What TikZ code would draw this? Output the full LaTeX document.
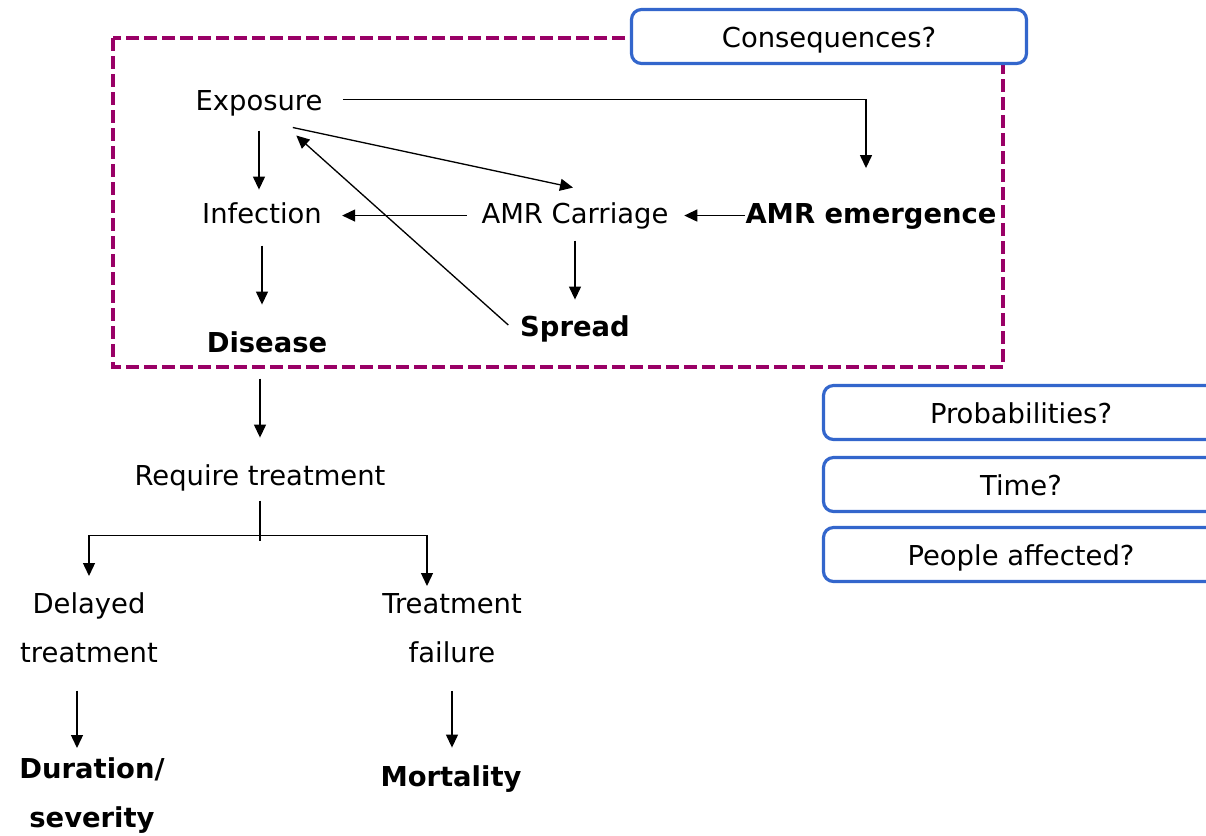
\documentclass[tikz,border=0pt]{standalone}
\usepackage{fontspec}
\setmainfont{DejaVu Sans}
\usepackage{xcolor}
\usetikzlibrary{arrows.meta, positioning}
\definecolor{boxpurple}{HTML}{990066}
\definecolor{boxblue}{HTML}{3366CC}

\begin{document}
\begin{tikzpicture}[
        lbl/.style={inner sep=0pt, anchor=base, text height=12pt, text depth=3.5pt},
        lbltwo/.style={inner sep=0pt, anchor=north, align=center},
        qbox/.style={draw=boxblue, line width=1.8pt, rounded corners=0.2cm, fill=white,
            minimum width=7.9cm, minimum height=1.08cm, inner sep=0pt,
            text height=12pt, text depth=0pt},
        arr/.style={-{Triangle[length=0.26cm, width=0.24cm]}, line width=0.75pt},
        ln/.style={line width=0.75pt}
    ]
        \fontsize{15.6}{18.7}\selectfont
        \clip (0,0) rectangle (24.12,-16.7);

        % Dashed frame
        \draw[boxpurple, line width=2.4pt, dash pattern=on 0.26cm off 0.1cm]
            (2.26,-0.76) rectangle (20.06,-7.34);

        % Question boxes
        \node[qbox] (conseq) at (16.58,-0.73) {Consequences?};
        \node[qbox] (prob) at (20.42,-8.25) {Probabilities?};
        \node[qbox] (time) at (20.42,-9.69) {Time?};
        \node[qbox] (people) at (20.42,-11.09) {People affected?};

        % Pathway labels
        \node[lbl] (expo) at (5.18,-2.2) {Exposure};
        \node[lbl] (inf) at (5.24,-4.46) {Infection};
        \node[lbl] (carr) at (11.5,-4.46) {AMR Carriage};
        \node[lbl, font=\bfseries] (emer) at (17.42,-4.46) {AMR emergence};
        \node[lbl, font=\bfseries] (spread) at (11.5,-6.73) {Spread};
        \node[lbl, font=\bfseries] (dis) at (5.34,-7.04) {Disease};
        \node[lbl] (req) at (5.2,-9.7) {Require treatment};
        \node[lbltwo, font=\fontsize{15.6}{28}\selectfont] (delay) at (1.78,-11.84) {Delayed\\treatment};
        \node[lbltwo, font=\fontsize{15.6}{28}\selectfont] (fail) at (9.04,-11.86) {Treatment\\failure};
        \node[lbltwo, font=\fontsize{15.6}{28}\selectfont\bfseries] (dur) at (1.84,-15.14) {Duration/\\severity};
        \node[lbl, font=\bfseries] (mort) at (9.02,-15.73) {Mortality};

        % Arrows inside the frame
        \draw[arr, shorten <=0.28cm, shorten >=0.24cm] (expo.south) -- (expo.south |- inf.north);
        \draw[arr, shorten <=0.32cm, shorten >=0.52cm] (inf.south) -- (inf.south |- dis.north);
        \draw[arr, shorten <=0.22cm, shorten >=0.31cm] (carr.south) -- (spread.north);
        \draw[arr, shorten <=0.29cm, shorten >=0.4cm] (carr.west) -- (inf.east);
        \draw[arr, shorten >=0.31cm] (emer.west) -- (carr.east);
        \draw[arr, shorten <=0.4cm, shorten >=0.67cm] ([yshift=0.06cm]expo.east) -| ([xshift=-0.1cm]emer.north);
        \draw[arr] ([xshift=-0.6cm, yshift=-0.22cm]expo.south east) -- ([xshift=-0.04cm, yshift=0.28cm]carr.north);
        \draw[arr] ([xshift=-0.23cm, yshift=0.08cm]spread.west) -- ([xshift=-0.53cm, yshift=-0.38cm]expo.south east);

        % Treatment branch
        \draw[arr, shorten <=0.4cm, shorten >=0.52cm] (req.north |- dis.south) -- (req.north);
        \coordinate (split) at ([yshift=-0.88cm]req.south);
        \draw[ln, shorten <=0.18cm] (req.south) -- ([yshift=-0.1cm]split);
        \draw[arr, shorten >=0.32cm] (split) -| (delay.north);
        \draw[arr, shorten >=0.14cm] (split) -| ([xshift=-0.5cm]fail.north);
        \draw[arr, shorten <=0.55cm, shorten >=0.18cm] ([xshift=-0.24cm]delay.south) -- ([xshift=-0.24cm]delay.south |- dur.north);
        \draw[arr, shorten <=0.55cm, shorten >=0.35cm] (fail.south) -- (fail.south |- mort.north);
    \end{tikzpicture}
\end{document}
